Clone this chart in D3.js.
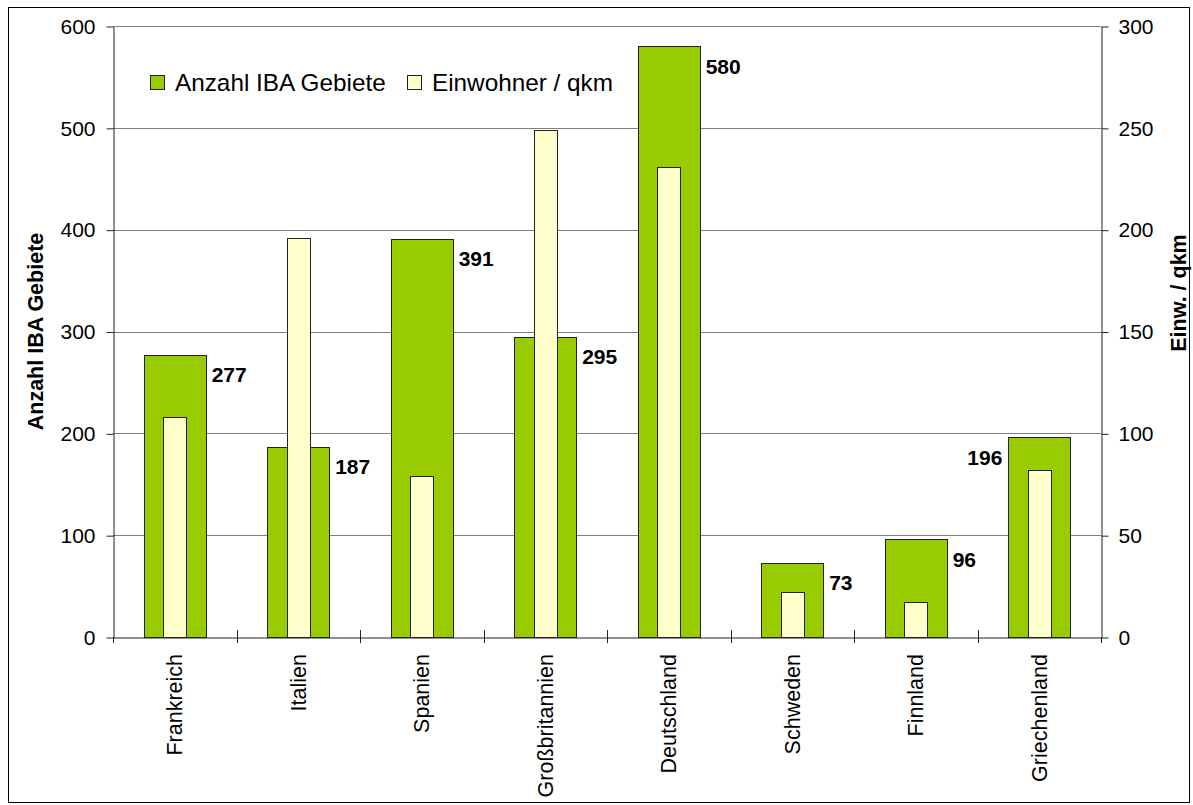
<!DOCTYPE html>
<html>
<head>
<meta charset="utf-8">
<script src="https://cdn.jsdelivr.net/npm/d3@7"></script>
<style>
  body { margin: 0; background: #fff; }
  svg { display: block; font-family: "Liberation Sans", Arial, sans-serif; }
</style>
</head>
<body>
<div id="chart"></div>
<script>
const countries = ["Frankreich", "Italien", "Spanien", "Großbritannien", "Deutschland", "Schweden", "Finnland", "Griechenland"];
const ibaCounts = [277, 187, 391, 295, 580, 73, 96, 196];
const density = [108, 196, 79, 249, 231, 22, 17, 82];
const leftTicks = [0, 100, 200, 300, 400, 500, 600];
const rightTicks = [0, 50, 100, 150, 200, 250, 300];
const seriesNames = ["Anzahl IBA Gebiete", "Einwohner / qkm"];

const width = 1193;
const height = 805;
const plot = { left: 113, right: 1101, top: 26, bottom: 637 };
const green = "#99cc00";
const yellow = "#ffffcc";

const svg = d3.select("#chart").append("svg")
  .attr("width", width)
  .attr("height", height);

// outer frame
svg.append("rect")
  .attr("x", 8.5).attr("y", 7.5)
  .attr("width", 1181).attr("height", 795)
  .attr("fill", "none").attr("stroke", "#000").attr("stroke-width", 1);

const x = d3.scaleBand().domain(countries).range([plot.left, plot.right]).padding(0);
const yL = d3.scaleLinear().domain([0, 600]).range([plot.bottom, plot.top]);
const yR = d3.scaleLinear().domain([0, 300]).range([plot.bottom, plot.top]);

// gridlines
svg.append("g").selectAll("line")
  .data(leftTicks.filter((d) => d > 0))
  .enter().append("line")
  .attr("x1", plot.left).attr("x2", plot.right)
  .attr("y1", (d) => Math.round(yL(d)) + 0.5)
  .attr("y2", (d) => Math.round(yL(d)) + 0.5)
  .attr("stroke", "#808080");

const greenW = x.bandwidth() * 0.5;
const yellowW = x.bandwidth() * 0.19;

// green bars
svg.append("g").selectAll("rect")
  .data(ibaCounts)
  .enter().append("rect")
  .attr("x", (d, i) => Math.round(x(countries[i]) + (x.bandwidth() - greenW) / 2) + 0.5)
  .attr("y", (d) => Math.round(yL(d)) + 0.5)
  .attr("width", Math.round(greenW))
  .attr("height", (d) => Math.round(yL(0)) - Math.round(yL(d)))
  .attr("fill", green).attr("stroke", "#222").attr("stroke-width", 1);

// yellow bars
svg.append("g").selectAll("rect")
  .data(density)
  .enter().append("rect")
  .attr("x", (d, i) => Math.round(x(countries[i]) + (x.bandwidth() - yellowW) / 2) + 0.5)
  .attr("y", (d) => Math.round(yR(d)) + 0.5)
  .attr("width", Math.round(yellowW))
  .attr("height", (d) => Math.round(yR(0)) - Math.round(yR(d)))
  .attr("fill", yellow).attr("stroke", "#222").attr("stroke-width", 1);

// value labels
svg.append("g").selectAll("text")
  .data(ibaCounts)
  .enter().append("text")
  .attr("x", (d, i) => {
    const c = x(countries[i]) + x.bandwidth() / 2;
    return i === countries.length - 1 ? c - greenW / 2 - 6 : c + greenW / 2 + 6;
  })
  .attr("y", (d) => yL(d) + 27.5)
  .attr("text-anchor", (d, i) => (i === countries.length - 1 ? "end" : "start"))
  .attr("font-size", 21).attr("font-weight", "bold")
  .text((d) => d);

// axes
const axisColor = "#222";
const leftAxis = svg.append("g")
  .attr("transform", `translate(${plot.left + 0.5},0.5)`)
  .call(d3.axisLeft(yL).tickValues(leftTicks).tickSize(7).tickPadding(11).tickSizeOuter(0));
const rightAxis = svg.append("g")
  .attr("transform", `translate(${plot.right + 0.5},0.5)`)
  .call(d3.axisRight(yR).tickValues(rightTicks).tickSize(7).tickPadding(10).tickSizeOuter(0));
const bottomAxis = svg.append("g")
  .attr("transform", `translate(0,${plot.bottom + 0.5})`)
  .call(d3.axisBottom(x).tickValues([]).tickSizeOuter(0));

[leftAxis, rightAxis, bottomAxis].forEach((g) => {
  g.select(".domain").attr("stroke", axisColor);
  g.selectAll(".tick line").attr("stroke", axisColor);
  g.selectAll(".tick text").attr("font-size", 21).attr("fill", "#000")
    .attr("font-family", "Liberation Sans, Arial, sans-serif");
});

// extend vertical axes below baseline
svg.append("g").selectAll("line")
  .data([plot.left, plot.right])
  .enter().append("line")
  .attr("x1", (d) => d + 0.5).attr("x2", (d) => d + 0.5)
  .attr("y1", plot.bottom).attr("y2", plot.bottom + 6)
  .attr("stroke", axisColor);

// category ticks crossing the axis
const boundaries = countries.map((c) => x(c)).concat([x(countries[countries.length - 1]) + x.bandwidth()]);
svg.append("g").selectAll("line")
  .data(boundaries.slice(1, -1))
  .enter().append("line")
  .attr("x1", (d) => Math.round(d) + 0.5).attr("x2", (d) => Math.round(d) + 0.5)
  .attr("y1", plot.bottom - 7).attr("y2", plot.bottom + 6)
  .attr("stroke", axisColor);

// category labels
svg.append("g").selectAll("text")
  .data(countries)
  .enter().append("text")
  .attr("transform", (d) => `translate(${x(d) + x.bandwidth() / 2},654) rotate(-90)`)
  .attr("dy", "0.35em")
  .attr("text-anchor", "end")
  .attr("font-size", 21.5)
  .text((d) => d);

// axis titles
svg.append("text")
  .attr("transform", `translate(43,${(plot.top + plot.bottom) / 2}) rotate(-90)`)
  .attr("text-anchor", "middle")
  .attr("font-size", 21.5).attr("font-weight", "bold")
  .text("Anzahl IBA Gebiete");
svg.append("text")
  .attr("transform", `translate(1186,293) rotate(-90)`)
  .attr("text-anchor", "middle")
  .attr("font-size", 21.5).attr("font-weight", "bold")
  .text("Einw. / qkm");

// legend
const legend = svg.append("g").attr("transform", "translate(150,75)");
const legendItems = legend.selectAll("g")
  .data(seriesNames)
  .enter().append("g")
  .attr("transform", (d, i) => `translate(${i === 0 ? 0 : 257},0)`);
legendItems.append("rect")
  .attr("x", 0.5).attr("y", 0.5)
  .attr("width", 14).attr("height", 14)
  .attr("fill", (d, i) => (i === 0 ? green : yellow))
  .attr("stroke", "#222");
legendItems.append("text")
  .attr("x", 25).attr("y", 15.5)
  .attr("font-size", 24.3)
  .text((d) => d);
</script>
</body>
</html>
